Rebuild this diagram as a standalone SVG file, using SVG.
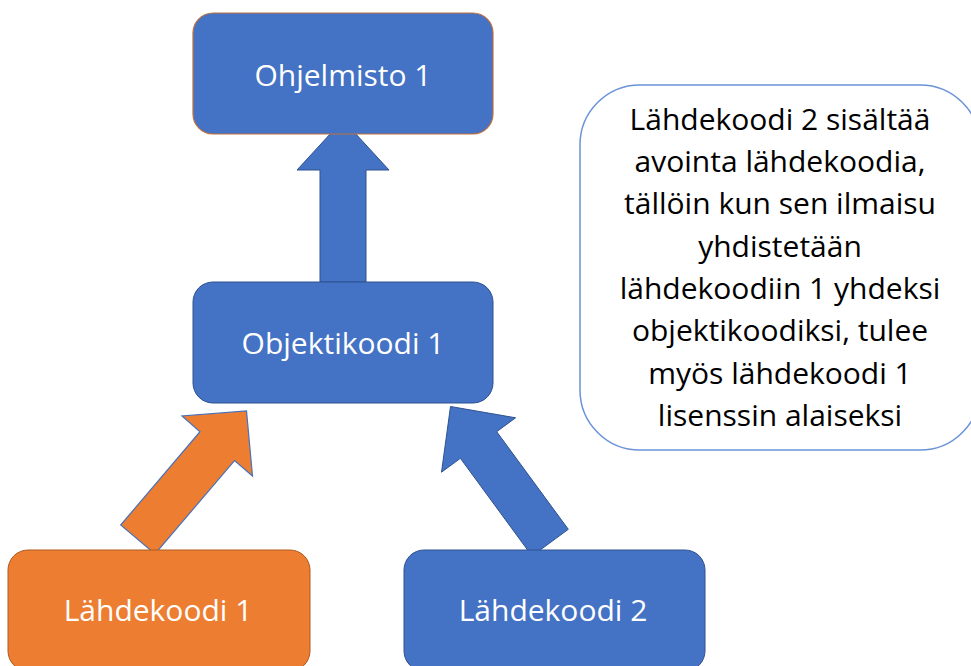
<svg xmlns="http://www.w3.org/2000/svg" width="971" height="666" viewBox="0 0 971 666">
<style>
  .lbl { font-family: "Open Sans", "Liberation Sans", sans-serif; font-size: 30px; fill: #ffffff; text-anchor: middle; }
  .note { font-family: "Open Sans", "Liberation Sans", sans-serif; font-size: 30px; fill: #000000; text-anchor: middle; }
  .blue { fill: #4472C4; stroke: #2F528F; stroke-width: 1; }
  .blueo { fill: #4472C4; stroke: #C0703A; stroke-width: 1.2; }
  .orange { fill: #ED7D31; stroke: #AE5A21; stroke-width: 1; }
  .arrowBlue { fill: #4472C4; stroke: #2F528F; stroke-width: 1; }
  .arrowOrange { fill: #ED7D31; stroke: #4A72B8; stroke-width: 1.2; }
</style>
<rect width="971" height="666" fill="#ffffff"/>
<g id="connectors">
  <polygon class="arrowBlue" points="320,282 320,170 297,170 343,120 389,170 366,170 366,282"/>
  <polygon class="arrowOrange" points="120.7,525 200,431.7 182,416 246.5,411 252.5,476 234.5,460.5 155,554"/>
  <polygon class="arrowBlue" points="568.3,529.3 496.7,431.7 515.6,417.8 450.5,406.5 441.5,472.2 460.4,458.3 532,556"/>
</g>
<g id="ohjelmisto1">
  <rect class="blueo" x="193" y="13" width="300" height="121" rx="20" ry="20"/>
  <text class="lbl" x="343" y="86">Ohjelmisto 1</text>
</g>
<g id="objektikoodi1">
  <rect class="blue" x="193" y="282" width="300" height="121" rx="20" ry="20"/>
  <text class="lbl" x="343" y="354">Objektikoodi 1</text>
</g>
<g id="lahdekoodi1">
  <rect class="orange" x="8" y="550" width="302" height="121" rx="20" ry="20"/>
  <text class="lbl" x="158" y="621">Lähdekoodi 1</text>
</g>
<g id="lahdekoodi2">
  <rect class="blue" x="404" y="550" width="301" height="121" rx="20" ry="20"/>
  <text class="lbl" x="553" y="621">Lähdekoodi 2</text>
</g>
<g id="callout">
  <rect x="580" y="85" width="400" height="365" rx="60" ry="60" fill="#ffffff" stroke="#6A93D8" stroke-width="1.5"/>
  <text class="note" x="780" y="130">Lähdekoodi 2 sisältää</text>
  <text class="note" x="780" y="172">avointa lähdekoodia,</text>
  <text class="note" x="780" y="214">tällöin kun sen ilmaisu</text>
  <text class="note" x="780" y="257">yhdistetään</text>
  <text class="note" x="780" y="299">lähdekoodiin 1 yhdeksi</text>
  <text class="note" x="780" y="341">objektikoodiksi, tulee</text>
  <text class="note" x="780" y="384">myös lähdekoodi 1</text>
  <text class="note" x="780" y="426">lisenssin alaiseksi</text>
</g>
</svg>
